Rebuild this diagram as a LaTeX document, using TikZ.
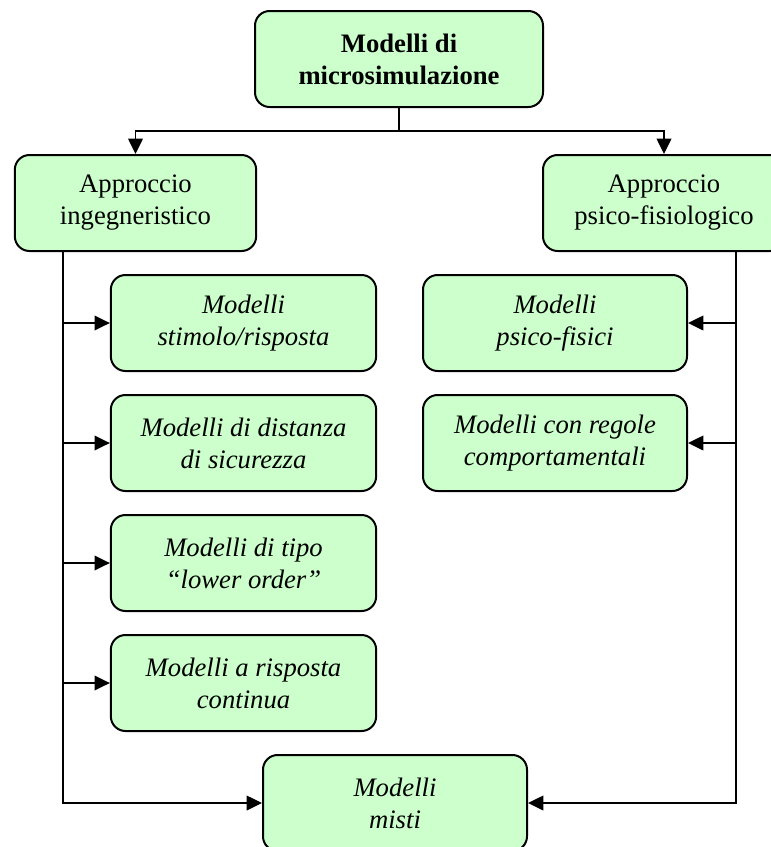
\documentclass[tikz,border=0pt]{standalone}
\usepackage{fontspec}
\setmainfont{Liberation Serif}
\usetikzlibrary{arrows.meta}
\definecolor{boxgreen}{HTML}{CCFFCC}
\tikzset{
  box/.style={draw=black, line width=1.5pt, fill=boxgreen, rounded corners=11pt,
    align=center, inner sep=0pt, minimum height=72pt,
    font=\fontsize{20}{24}\selectfont},
  arr/.style={line width=1.1pt, -{Triangle[length=11.5pt,width=11pt]}},
  ln/.style={line width=1.1pt}
}
\begin{document}
\begin{tikzpicture}[x=0.75pt,y=-0.75pt]
\useasboundingbox (0,0) rectangle (771,847);
\clip (0,0) rectangle (771,847);
\node[box, minimum width=216pt, font=\fontsize{20}{24}\selectfont\bfseries] (top) at (399,59) {Modelli di\\microsimulazione};
\node[box, minimum width=181pt] (L) at (135.5,203) {Approccio\\ingegneristico};
\node[box, minimum width=181.5pt] (R) at (664,203) {Approccio\\psico-fisiologico};
\node[box, minimum width=199pt] (c1) at (243.5,323) {\itshape Modelli\\\itshape stimolo/risposta};
\node[box, minimum width=199pt] (c2) at (243.5,443) {\itshape Modelli di distanza\\\itshape di sicurezza};
\node[box, minimum width=199pt] (c3) at (243.5,563) {\itshape Modelli di tipo\\\itshape “lower order”};
\node[box, minimum width=199pt] (c4) at (243.5,683) {\itshape Modelli a risposta\\\itshape continua};
\node[box, minimum width=198pt] (r1) at (555,323) {\itshape Modelli\\\itshape psico-fisici};
\node[box, minimum width=198pt] (r2) at (555,443) {\itshape Modelli con regole\\\itshape comportamentali};
\node[box, minimum width=198pt] (mx) at (395,803) {\itshape Modelli\\\itshape misti};
\coordinate (j) at (399,131);
\coordinate (lt) at (63,251);
\coordinate (rt) at (736,251);
\draw[ln] (top.south) -- (j);
\draw[arr] (j) -| (L.north);
\draw[arr] (j) -| (R.north);
\draw[arr] (lt) |- (mx.west);
\draw[arr] (rt) |- (mx.east);
\draw[arr] (lt |- c1.west) -- (c1.west);
\draw[arr] (lt |- c2.west) -- (c2.west);
\draw[arr] (lt |- c3.west) -- (c3.west);
\draw[arr] (lt |- c4.west) -- (c4.west);
\draw[arr] (rt |- r1.east) -- (r1.east);
\draw[arr] (rt |- r2.east) -- (r2.east);
\end{tikzpicture}
\end{document}
